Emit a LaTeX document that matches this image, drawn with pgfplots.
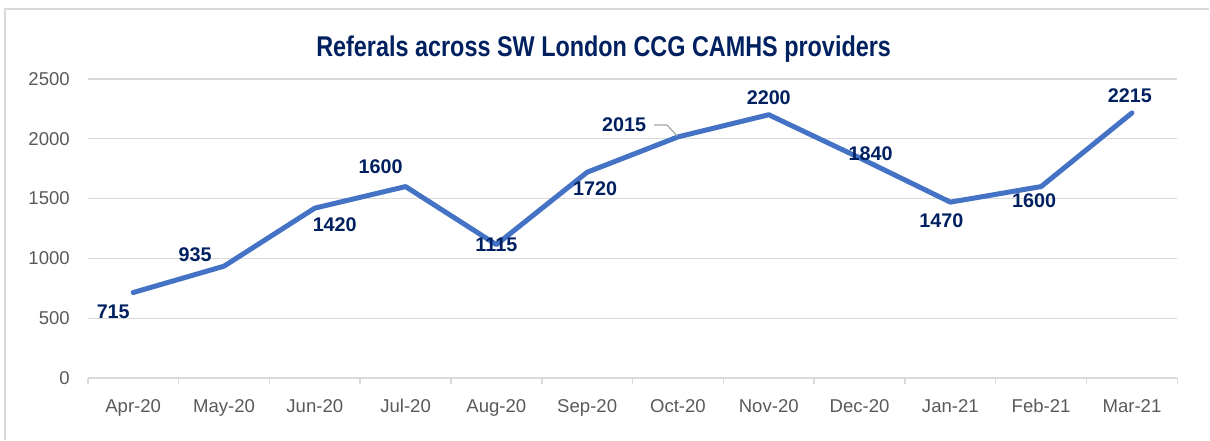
\documentclass[border=0pt]{standalone}
\usepackage{fontspec}
\setmainfont{Liberation Sans}
\newfontfamily\narrowfont{Liberation Sans}[FakeStretch=0.82]
\usepackage{pgfplots}
\usepackage{pgfplotstable}
\pgfplotsset{compat=1.18}

\definecolor{linblue}{HTML}{4472C4}
\definecolor{navy}{HTML}{002060}
\definecolor{gridgray}{HTML}{D9D9D9}
\definecolor{ticktext}{HTML}{595959}

% x y label-shift (pt)
\pgfplotstableread{
x  y     dx     dy
0  715   -10    -9.5
1  935   -14.5   6
2  1420  10     -8.5
3  1600  -12.5   10
4  1115   0      0
5  1720   4     -8.5
6  2015  -27     6
7  2200   0      8.5
8  1840   5.5    2
9  1470  -4.5   -9.5
10 1600  -3.5   -7
11 2215  -1      8.5
}\refs

\begin{document}
\begin{tikzpicture}
\path (-44pt,-30pt) rectangle (561pt,189.5pt);
\draw[gridgray, line width=0.75pt] (-41.5pt,-31pt) -- (-41.5pt,185pt) -- (562pt,185pt);
\begin{axis}[
    at={(0,0)}, anchor=south west,
    scale only axis,
    width=546pt, height=150pt,
    xmin=-0.5, xmax=11.5,
    ymin=0, ymax=2500,
    ytick={0,500,...,2500},
    xtick={0,...,11},
    xticklabels={Apr-20,May-20,Jun-20,Jul-20,Aug-20,Sep-20,Oct-20,Nov-20,Dec-20,Jan-21,Feb-21,Mar-21},
    minor xtick={-0.5,0.5,...,11.5},
    major tick length=0pt,
    minor tick length=3pt,
    tick align=outside,
    minor tick style={gridgray, line width=0.75pt},
    axis x line*=bottom,
    axis y line*=left,
    x axis line style={draw=gridgray, line width=0.75pt, -},
    y axis line style={draw=none},
    ymajorgrids,
    major grid style={gridgray, line width=0.75pt},
    /pgf/number format/1000 sep={},
    /pgf/number format/assume math mode=true,
    tick label style={font=\fontsize{9.3}{10}\selectfont, text=ticktext},
    yticklabel style={xshift=-5.5pt},
    xticklabel style={yshift=-7pt},
    clip=false,
]
\addplot[linblue, line width=2.5pt, line join=round, line cap=round,
    nodes near coords,
    visualization depends on={\thisrow{dx}\as\dx},
    visualization depends on={\thisrow{dy}\as\dy},
    every node near coord/.append style={anchor=center, xshift=\dx pt, yshift=\dy pt,
        font=\fontsize{9.9}{11}\selectfont\bfseries, text=navy}]
    table[x=x, y=y] {\refs};
\draw[gray!70, line width=0.6pt] ([xshift=-12pt,yshift=6pt]axis cs:6,2015) -- ([xshift=-5.5pt,yshift=6pt]axis cs:6,2015) -- ([xshift=-0.5pt,yshift=0.5pt]axis cs:6,2015);
\end{axis}
\node[font=\narrowfont\fontsize{14.3}{16}\selectfont\bfseries, text=navy, anchor=base] at (258.5pt,161pt) {Referals across SW London CCG CAMHS providers};
\end{tikzpicture}
\end{document}
